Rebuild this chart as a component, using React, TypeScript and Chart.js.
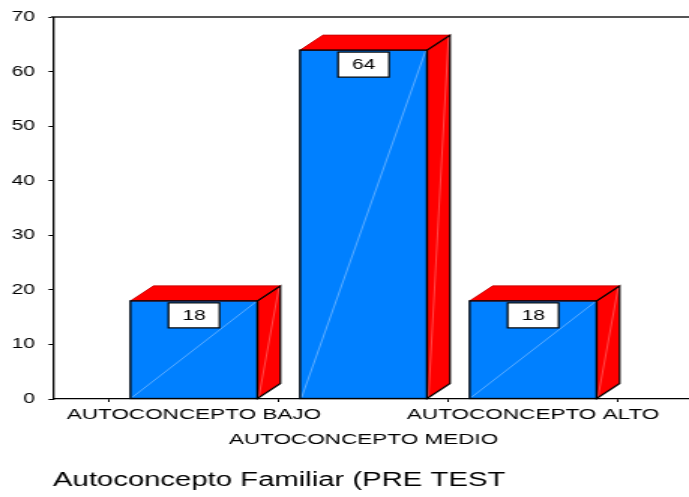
import React, { useEffect, useRef } from 'react';
import { Chart, registerables } from 'chart.js';

Chart.register(...registerables);

// ---- data ----
const categories = ['AUTOCONCEPTO BAJO', 'AUTOCONCEPTO MEDIO', 'AUTOCONCEPTO ALTO'];
const values = [18, 64, 18];
const yTicks = [0, 10, 20, 30, 40, 50, 60, 70];
const titleText = 'Autoconcepto Familiar (PRE TEST';

// ---- layout / style ----
const FONT = '"Liberation Sans", Arial, Helvetica, sans-serif';
const W = 459; // internal canvas width, CSS-stretched horizontally to 689
const H = 497;
const X_MIN = -0.831;
const X_MAX = 2.919;
const DX = 15.3; // 3D depth (internal px)
const DY = 15;

const bar3d = {
  id: 'bar3d',
  afterDatasetsDraw(chart: any) {
    const ctx = chart.ctx as CanvasRenderingContext2D;
    const meta = chart.getDatasetMeta(0);
    const ds = chart.data.datasets[0].data as any[];
    meta.data.forEach((bar: any, i: number) => {
      const { x, y, base, width } = bar.getProps(['x', 'y', 'base', 'width'], true);
      const l = x - width / 2;
      const r = x + width / 2;
      ctx.save();
      // side face
      ctx.beginPath();
      ctx.moveTo(r, y);
      ctx.lineTo(r + DX, y - DY);
      ctx.lineTo(r + DX, base - DY);
      ctx.lineTo(r, base);
      ctx.closePath();
      ctx.fillStyle = '#ff0000';
      ctx.fill();
      ctx.strokeStyle = '#000';
      ctx.lineWidth = 1.2;
      ctx.stroke();
      // side face faint diagonal
      ctx.beginPath();
      ctx.moveTo(r + 1, base - 2);
      ctx.lineTo(r + DX - 1, y - DY + 2);
      ctx.strokeStyle = 'rgba(255,160,160,0.9)';
      ctx.lineWidth = 0.5;
      ctx.stroke();
      // top face
      ctx.beginPath();
      ctx.moveTo(l, y);
      ctx.lineTo(l + DX, y - DY);
      ctx.lineTo(r + DX, y - DY);
      ctx.lineTo(r, y);
      ctx.closePath();
      ctx.fillStyle = '#ff0000';
      ctx.fill();
      ctx.strokeStyle = '#c00000';
      ctx.lineWidth = 0.8;
      ctx.stroke();
      ctx.beginPath();
      ctx.moveTo(r, y);
      ctx.lineTo(r + DX, y - DY);
      ctx.strokeStyle = '#000';
      ctx.lineWidth = 1.2;
      ctx.stroke();
      // front faint diagonal
      ctx.beginPath();
      ctx.moveTo(l + 1, base - 1);
      ctx.lineTo(r - 1, y + 1);
      ctx.strokeStyle = 'rgba(170,210,255,0.9)';
      ctx.lineWidth = 0.6;
      ctx.stroke();
      // front outline
      ctx.strokeStyle = '#000';
      ctx.lineWidth = 1.3;
      ctx.strokeRect(l, y, width, base - y);
      // value label box
      const v = ds[i] ? ds[i].y : '';
      const bw = 34;
      const bh = 25;
      const bx = x - bw / 2;
      const by = y + 2;
      ctx.fillStyle = '#fff';
      ctx.fillRect(bx, by, bw, bh);
      ctx.strokeStyle = '#000';
      ctx.lineWidth = 1.2;
      ctx.strokeRect(bx, by, bw, bh);
      ctx.fillStyle = '#000';
      ctx.font = `14px ${FONT}`;
      ctx.textAlign = 'center';
      ctx.textBaseline = 'middle';
      ctx.fillText(String(v), x, by + bh / 2 + 1);
      ctx.restore();
    });
  },
};

export default function App() {
  const ref = useRef<HTMLCanvasElement>(null);

  useEffect(() => {
    const canvas = ref.current;
    if (!canvas) return;
    const chart = new Chart(canvas, {
      type: 'bar',
      data: {
        datasets: [
          {
            data: values.map((v, i) => ({ x: i, y: v })),
            backgroundColor: '#0080ff',
            borderColor: '#000',
            borderWidth: 0,
            barThickness: 84.6,
          },
        ],
      },
      options: {
        responsive: false,
        devicePixelRatio: 1,
        animation: false,
        layout: { padding: { left: 0, top: 14, right: 0, bottom: 0 } },
        plugins: {
          legend: { display: false },
          tooltip: { enabled: false },
          title: { display: false },
        },
        scales: {
          x: {
            type: 'linear',
            min: X_MIN,
            max: X_MAX,
            position: 'bottom',
            offset: false,
            afterBuildTicks: (a: any) => {
              a.ticks = categories.map((_, i) => ({ value: i }));
            },
            afterFit: (s: any) => {
              s.height = H - 399;
            },
            ticks: {
              autoSkip: false,
              maxRotation: 0,
              minRotation: 0,
              padding: 0,
              color: '#000',
              font: { family: FONT, size: 15, lineHeight: '25px' },
              callback: (v: any) => {
                const i = Math.round(Number(v));
                return i === 1 ? ['', categories[i]] : [categories[i]];
              },
            },
            title: {
              display: true,
              text: titleText,
              align: 'start',
              color: '#000',
              font: { family: FONT, size: 19.5, weight: 'normal' },
              padding: { top: 0, bottom: 5 },
            },
            grid: { drawOnChartArea: false, drawTicks: true, tickLength: 3, color: '#000', lineWidth: 1 },
            border: { display: true, color: '#000', width: 1.2 },
          },
          x2: {
            type: 'linear',
            min: X_MIN,
            max: X_MAX,
            position: 'top',
            ticks: { display: false },
            grid: { display: false, drawTicks: false },
            border: { display: true, color: '#555', width: 2 },
            afterFit: (s: any) => {
              s.height = 0;
            },
          },
          y: {
            type: 'linear',
            min: 0,
            max: 70,
            position: 'left',
            afterBuildTicks: (a: any) => {
              a.ticks = yTicks.map((v) => ({ value: v }));
            },
            afterFit: (s: any) => {
              s.width = 35.3;
            },
            ticks: { padding: 9, color: '#000', font: { family: FONT, size: 14 } },
            grid: { drawOnChartArea: false, drawTicks: true, tickLength: 3, color: '#000', lineWidth: 1 },
            border: { display: true, color: '#000', width: 1.3 },
          },
        },
      } as any,
      plugins: [bar3d],
    });
    return () => chart.destroy();
  }, []);

  return (
    <div style={{ position: 'fixed', left: 0, top: 0, width: 689, height: 497, background: '#fff' }}>
      <canvas
        ref={ref}
        width={W}
        height={H}
        style={{ width: '689px', height: '497px', display: 'block' }}
      />
    </div>
  );
}
